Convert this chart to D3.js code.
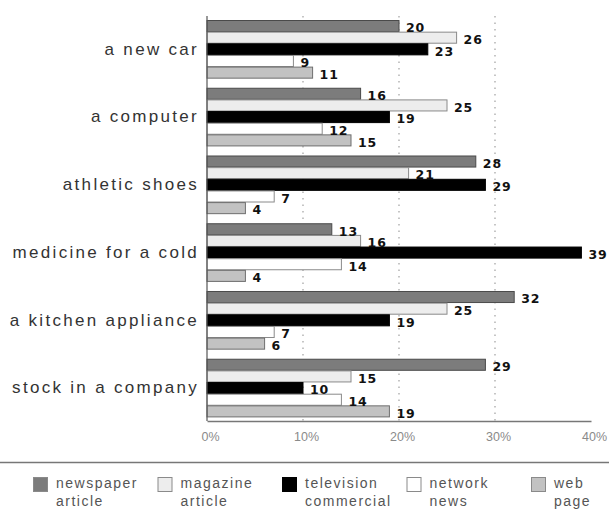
<!DOCTYPE html>
<html>
<head>
<meta charset="utf-8">
<script src="https://cdn.jsdelivr.net/npm/d3@7"></script>
<style>
  html, body { margin: 0; padding: 0; background: #ffffff; }
  svg { display: block; }
</style>
</head>
<body>
<svg id="chart" width="609" height="510"></svg>
<script>
// Where people say they first hear about purchases, by product
const categories = ["a new car", "a computer", "athletic shoes", "medicine for a cold", "a kitchen appliance", "stock in a company"];
const seriesKeys = ["newspaper", "magazine", "television", "network", "web"];
const seriesNames = [["newspaper", "article"], ["magazine", "article"], ["television", "commercial"], ["network", "news"], ["web", "page"]];
const newspaper  = [20, 16, 28, 13, 32, 29];
const magazine   = [26, 25, 21, 16, 25, 15];
const television = [23, 19, 29, 39, 19, 10];
const network    = [9, 12, 7, 14, 7, 14];
const web        = [11, 15, 4, 4, 6, 19];
const xTicks = [0, 10, 20, 30, 40];

const seriesValues = { newspaper, magazine, television, network, web };

const fills   = { newspaper: "#7c7c7c", magazine: "#ededed", television: "#000000", network: "#ffffff", web: "#c2c2c2" };
const strokes = { newspaper: "#4a4a4a", magazine: "#8a8a8a", television: "#000000", network: "#8a8a8a", web: "#6e6e6e" };

const svg = d3.select("#chart");

const x = d3.scaleLinear().domain([0, 40]).range([207, 591]);
const y = d3.scaleBand().domain(categories).range([20, 417]).paddingInner(0.14).paddingOuter(0);
const yInner = d3.scaleBand().domain(seriesKeys).range([0, y.bandwidth()]).padding(0);

// dotted reference lines
svg.append("g")
  .selectAll("line")
  .data(xTicks.filter(t => t > 0 && t < 40))
  .join("line")
  .attr("x1", d => x(d)).attr("x2", d => x(d))
  .attr("y1", 16).attr("y2", 421)
  .attr("stroke", "#a0a0a0")
  .attr("stroke-width", 1.2)
  .attr("stroke-dasharray", "1.5,5");

// bars
const rows = categories.flatMap((c, i) => seriesKeys.map(k => ({ cat: c, key: k, value: seriesValues[k][i] })));

svg.append("g")
  .selectAll("rect")
  .data(rows)
  .join("rect")
  .attr("x", x(0))
  .attr("y", d => y(d.cat) + yInner(d.key) + 0.5)
  .attr("width", d => x(d.value) - x(0))
  .attr("height", yInner.bandwidth() - 0.6)
  .attr("fill", d => fills[d.key])
  .attr("stroke", d => strokes[d.key])
  .attr("stroke-width", 1);

// value labels
svg.append("g")
  .selectAll("text")
  .data(rows)
  .join("text")
  .attr("x", d => x(d.value) + 7)
  .attr("y", d => y(d.cat) + yInner(d.key) + yInner.bandwidth() / 2 + 2)
  .attr("dominant-baseline", "central")
  .attr("font-family", "DejaVu Sans, sans-serif")
  .attr("font-weight", "bold")
  .attr("font-size", 12.5)
  .attr("letter-spacing", "0.9px")
  .attr("fill", "#111")
  .text(d => d.value);

// category axis
const yAxis = svg.append("g").attr("transform", `translate(${x(0)},0)`)
  .call(d3.axisLeft(y).tickSize(0).tickPadding(10));
yAxis.select(".domain").remove();
yAxis.selectAll("text")
  .attr("font-family", "Liberation Sans, Arial, sans-serif")
  .attr("font-size", 17)
  .attr("letter-spacing", "2.3px")
  .attr("fill", "#333")
  .attr("dx", 2);
svg.append("line")
  .attr("x1", x(0)).attr("x2", x(0))
  .attr("y1", 16).attr("y2", 421)
  .attr("stroke", "#555").attr("stroke-width", 1.2);

// value axis
const xAxis = svg.append("g").attr("transform", "translate(0,421)")
  .call(d3.axisBottom(x).tickValues(xTicks).tickFormat(d => d + "%").tickSize(0).tickPadding(11));
xAxis.select(".domain").attr("stroke", "#777").attr("stroke-width", 1.3);
xAxis.selectAll("text")
  .attr("font-family", "Liberation Sans, Arial, sans-serif")
  .attr("font-size", 12.5)
  .attr("fill", "#8a8a8a")
  .attr("dx", 3);

// separator above legend
svg.append("line")
  .attr("x1", 0).attr("x2", 609)
  .attr("y1", 462.5).attr("y2", 462.5)
  .attr("stroke", "#777").attr("stroke-width", 1.5);

// legend
const legendX = d3.scalePoint().domain(seriesKeys).range([33, 531]);
const legend = svg.append("g")
  .selectAll("g")
  .data(seriesKeys)
  .join("g")
  .attr("transform", d => `translate(${legendX(d)},477)`);
legend.append("rect")
  .attr("x", 0.5).attr("y", 0.5)
  .attr("width", 14).attr("height", 14)
  .attr("fill", d => fills[d])
  .attr("stroke", d => d === "television" ? "#000" : "#8a8a8a")
  .attr("stroke-width", 1);
legend.append("text")
  .attr("font-family", "Liberation Sans, Arial, sans-serif")
  .attr("font-size", 14)
  .attr("letter-spacing", "1.5px")
  .attr("fill", "#555")
  .selectAll("tspan")
  .data((d, i) => seriesNames[i])
  .join("tspan")
  .attr("x", 23)
  .attr("y", (d, i) => 11 + i * 18)
  .text(d => d);
</script>
</body>
</html>
